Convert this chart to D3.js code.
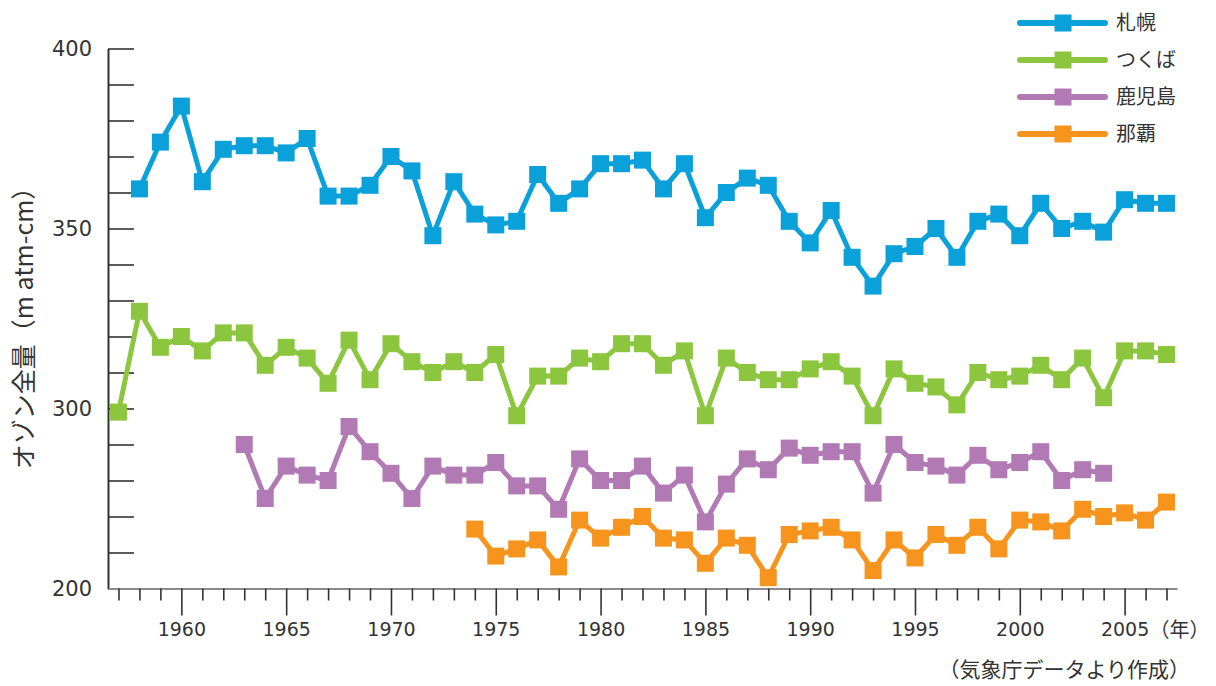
<!DOCTYPE html>
<html lang="ja">
<head>
<meta charset="utf-8">
<title>オゾン全量の推移</title>
<script src="https://cdn.jsdelivr.net/npm/d3@7"></script>
<style>
  html, body { margin: 0; padding: 0; background: #fff; }
  svg { display: block; font-family: "Noto Sans CJK JP", "Noto Sans", sans-serif; }
  .axis text { fill: #333; font-size: 20px; font-family: "DejaVu Sans", "Noto Sans CJK JP", sans-serif; }
</style>
</head>
<body>
<div id="chart"></div>
<script>
// Ozone chart - annual totals at four Japanese stations

// Station names (legend order)
const stations = ['札幌', 'つくば', '鹿児島', '那覇'];
const stationColors = ['#0aa0da', '#8cc63f', '#b27ab4', '#f7941e'];

// First year of each series
const sapporoStart = 1958;
const tsukubaStart = 1957;
const kagoshimaStart = 1963;
const nahaStart = 1974;

// Annual values (m atm-cm)
const sapporoValues = [
  361, 374, 384, 363, 372, 373, 373, 371, 375, 359,
  359, 362, 370, 366, 348, 363, 354, 351, 352, 365,
  357, 361, 368, 368, 369, 361, 368, 353, 360, 364,
  362, 352, 346, 355, 342, 334, 343, 345, 350, 342,
  352, 354, 348, 357, 350, 352, 349, 358, 357, 357
];
const tsukubaValues = [
  298, 327, 317, 320, 316, 321, 321, 312, 317, 314,
  307, 319, 308, 318, 313, 310, 313, 310, 315, 296,
  309, 309, 314, 313, 318, 318, 312, 316, 296, 314,
  310, 308, 308, 311, 313, 309, 296, 311, 307, 306,
  301, 310, 308, 309, 312, 308, 314, 303, 316, 316,
  315
];
const kagoshimaValues = [
  280, 250, 268, 263, 260, 290, 276, 264, 250, 268,
  263, 263, 270, 257, 257, 244, 272, 260, 260, 268,
  253, 263, 237, 258, 272, 266, 278, 274, 276, 276,
  253, 280, 270, 268, 263, 274, 266, 270, 276, 260,
  266, 264
];
const nahaValues = [
  233, 218, 222, 227, 212, 238, 228, 234, 240, 228,
  227, 214, 228, 224, 206, 230, 232, 234, 227, 210,
  227, 217, 230, 224, 234, 222, 238, 237, 232, 244,
  240, 242, 238, 248
];

// Axis ticks (the scale below 300 is compressed on the original)
const yTickValues = [200, 220, 240, 260, 280, 300, 310, 320, 330, 340, 350,
  360, 370, 380, 390, 400];
const yTickLabels = [200, 300, 350, 400];
const xTickYears = d3.range(1957, 2008);
const xLabelEvery = 5;

const yTitle = 'オゾン全量（m atm-cm）';
const yearUnit = '（年）';
const sourceNote = '（気象庁データより作成）';

const width = 1216;
const height = 686;

const series = [
  { name: stations[0], start: sapporoStart, values: sapporoValues, color: stationColors[0] },
  { name: stations[1], start: tsukubaStart, values: tsukubaValues, color: stationColors[1] },
  { name: stations[2], start: kagoshimaStart, values: kagoshimaValues, color: stationColors[2] },
  { name: stations[3], start: nahaStart, values: nahaValues, color: stationColors[3] }
].map(s => ({
  ...s,
  points: s.values.map((v, i) => ({ year: s.start + i, value: v }))
}));

const svg = d3.select('#chart')
  .append('svg')
  .attr('width', width)
  .attr('height', height);

const x = d3.scaleLinear()
  .domain([1956.5, 2007.5])
  .range([108, 1177]);

// piecewise: 200-300 takes half the room of 300-400
const y = d3.scaleLinear()
  .domain([200, 300, 400])
  .range([588.5, 408.5, 48.5]);

// Y axis, ticks pointing into the plot
const yAxis = svg.append('g')
  .attr('class', 'axis')
  .attr('transform', `translate(${x.range()[0]},0)`)
  .call(d3.axisLeft(y)
    .tickValues(yTickValues)
    .tickSizeInner(-26)
    .tickSizeOuter(0)
    .tickPadding(16)
    .tickFormat(d => yTickLabels.includes(d) ? d : ''));

yAxis.select('.domain').attr('stroke', '#333').attr('stroke-width', 2);
yAxis.selectAll('.tick line').attr('stroke', '#333').attr('stroke-width', 1.6);
yAxis.selectAll('.tick text').style('font-size', '21px');

// X axis, every year ticked, longer ticks at labelled years
const xAxis = svg.append('g')
  .attr('class', 'axis')
  .attr('transform', `translate(0,${y(200)})`)
  .call(d3.axisBottom(x)
    .tickValues(xTickYears)
    .tickSizeInner(12)
    .tickSizeOuter(0)
    .tickPadding(22)
    .tickFormat(d => d % xLabelEvery === 0 ? d : ''));

xAxis.select('.domain').attr('stroke', '#8a8a8a').attr('stroke-width', 2);
xAxis.selectAll('.tick line')
  .attr('stroke', '#333')
  .attr('stroke-width', 1.6)
  .attr('y2', d => d % xLabelEvery === 0 ? 27 : 12);
xAxis.selectAll('.tick text').style('font-size', '19px');

svg.append('text')
  .attr('x', x(2005) + 25)
  .attr('y', y(200) + 34)
  .attr('dy', '0.71em')
  .attr('fill', '#333')
  .style('font-size', '20px')
  .text(yearUnit);

svg.append('text')
  .attr('x', 1190)
  .attr('y', 677)
  .attr('text-anchor', 'end')
  .attr('fill', '#333')
  .style('font-size', '21px')
  .text(sourceNote);

svg.append('text')
  .attr('transform', 'translate(33,322) rotate(-90)')
  .attr('text-anchor', 'middle')
  .attr('fill', '#333')
  .style('font-size', '25px')
  .text(yTitle);

// Lines and square markers
const line = d3.line()
  .x(d => x(d.year))
  .y(d => y(d.value));

const markerSize = 17;

const seriesGroup = svg.append('g').attr('class', 'series');

series.forEach(s => {
  const g = seriesGroup.append('g');

  g.append('path')
    .datum(s.points)
    .attr('d', line)
    .attr('fill', 'none')
    .attr('stroke', s.color)
    .attr('stroke-width', 5)
    .attr('stroke-linejoin', 'round');

  g.selectAll('rect')
    .data(s.points)
    .enter()
    .append('rect')
    .attr('x', d => x(d.year) - markerSize / 2)
    .attr('y', d => y(d.value) - markerSize / 2)
    .attr('width', markerSize)
    .attr('height', markerSize)
    .attr('fill', s.color);
});

// Legend (top right)
const legend = svg.append('g').attr('class', 'legend');
const legendY = d3.scalePoint()
  .domain(stations)
  .range([23, 134]);

series.forEach(s => {
  const ly = legendY(s.name);
  legend.append('line')
    .attr('x1', 1020)
    .attr('x2', 1105)
    .attr('y1', ly)
    .attr('y2', ly)
    .attr('stroke', s.color)
    .attr('stroke-width', 6)
    .attr('stroke-linecap', 'round');
  legend.append('rect')
    .attr('x', 1063 - markerSize / 2)
    .attr('y', ly - markerSize / 2)
    .attr('width', markerSize)
    .attr('height', markerSize)
    .attr('fill', s.color);
  legend.append('text')
    .attr('x', 1116)
    .attr('y', ly)
    .attr('dy', '0.35em')
    .attr('fill', '#333')
    .style('font-size', '20px')
    .text(s.name);
});
</script>
</body>
</html>
